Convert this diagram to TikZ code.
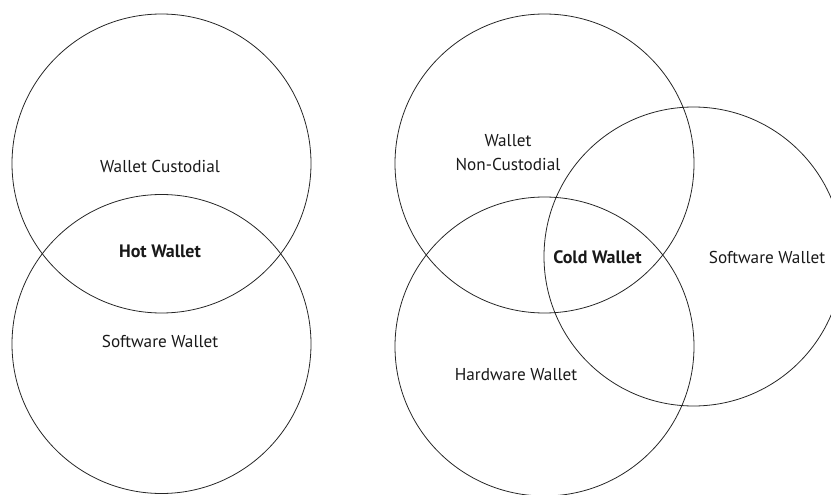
\documentclass[tikz,border=0pt]{standalone}
\usepackage{fontspec}
\setmainfont{PT Sans}
\begin{document}
\begin{tikzpicture}[x=1pt,y=-1pt,
  ring/.style={circle,draw=black!85,line width=0.8pt,minimum size=299pt,inner sep=0pt},
  lbl/.style={font=\fontsize{17.2}{24}\selectfont,text=black!90,inner sep=0pt,align=center},
  blbl/.style={lbl,font=\fontsize{18}{24}\selectfont\bfseries}]
\useasboundingbox (0,0) rectangle (831,495);
\node[ring] (lt) at (161.5,163.5) {};
\node[ring] (lb) at (161.5,344) {};
\node[ring] (rt) at (544.5,163.5) {};
\node[ring] (rb) at (544.5,346.5) {};
\node[ring] (rr) at (693.5,256.5) {};
\node[lbl] (t1) at (160,166) {Wallet Custodial};
\node[blbl] (t2) at (160,251) {Hot Wallet};
\node[lbl] (t3) at (160,341) {Software Wallet};
\node[lbl] (t4) at (508,153) {Wallet\\Non-Custodial};
\node[blbl] (t5) at (597.5,257) {Cold Wallet};
\node[lbl] (t6) at (767,257) {Software Wallet};
\node[lbl] (t7) at (516,375) {Hardware Wallet};
\end{tikzpicture}
\end{document}
